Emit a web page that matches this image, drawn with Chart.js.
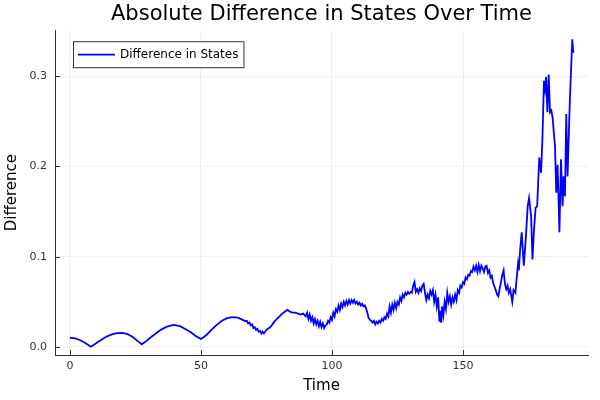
<!DOCTYPE html>
<html>
<head>
<meta charset="utf-8">
<script src="https://cdn.jsdelivr.net/npm/chart.js@4.4.0/dist/chart.umd.min.js"></script>
<style>
  html, body { margin: 0; padding: 0; background: #fff; }
  #wrap { width: 600px; height: 400px; }
</style>
</head>
<body>
<div id="wrap"><canvas id="chart" width="600" height="400"></canvas></div>
<script>
// values
const time = [
  0, 2, 4, 6, 8, 10, 12, 14, 16, 18, 20, 22, 24, 26, 27.4, 29, 31, 33, 35, 37, 39.5,
  42, 44, 46, 48, 50, 52, 54, 56, 58, 60, 62, 64, 66,
  67, 67.5, 68, 68.5, 69, 69.5, 70, 70.5, 71, 71.5, 72, 72.5, 73, 73.5, 74,
  75, 76, 77, 78, 79, 80, 81, 82, 83, 84, 85, 86, 87, 88, 89,
  90, 90.5, 91, 91.5, 92, 92.5, 93, 93.5, 94, 94.5, 95, 95.5, 96, 96.5, 97, 97.5,
  98, 98.5, 99, 99.5, 100, 100.5, 101, 101.5, 102, 102.5, 103, 103.5, 104, 104.5,
  105, 105.5, 106, 106.5, 107, 107.5, 108, 108.5, 109, 109.5, 110, 110.5, 111, 111.5,
  112, 112.5, 113, 113.5, 114, 114.5, 115, 115.5, 116, 116.5, 117, 117.5, 118, 118.5,
  119, 119.5, 120, 120.5, 121, 121.5, 122, 122.5, 123, 123.5, 124, 124.5, 125, 125.5,
  126, 126.5, 127, 127.5, 128, 128.5, 129, 129.5, 130, 130.5, 131, 131.5, 132, 132.5,
  133, 133.5, 134, 134.5, 135, 135.5, 136, 136.5, 137, 137.5, 138, 138.5, 139, 139.5,
  140, 140.5, 141, 141.3, 141.7, 142, 142.5, 143, 143.5, 144, 144.5, 145, 145.5, 146,
  146.5, 147, 147.5, 148, 148.5, 149, 149.5, 150, 150.5, 151, 151.5, 152, 152.5, 153,
  153.5, 154, 154.5, 155, 155.5, 156, 156.5, 157, 157.5, 158, 158.5, 159, 159.5, 160,
  160.5, 161, 161.5, 162, 162.5, 163, 163.5, 164, 164.5, 165, 165.5, 166, 166.5, 167,
  167.5, 168, 168.8, 169.3, 170, 170.5, 171, 171.3, 171.8, 172.4, 173.2, 174, 174.7,
  175.2, 176, 176.5, 177.1, 177.7, 178.3, 179.1, 179.8, 180.3, 180.9, 181.3, 181.7,
  182.2, 182.7, 183.2, 183.7, 184.2, 184.7, 185.1, 185.6, 186.1, 186.8, 187.4, 188,
  188.4, 188.9, 189.4, 189.9, 190.7, 191.7, 192.1
]
const diff = [
  0.0102, 0.0095, 0.0075, 0.0042, 0.0003, 0.0040, 0.0080, 0.0115, 0.0140, 0.0153, 0.0155,
  0.0142, 0.0110, 0.0062, 0.0030, 0.0062, 0.0110, 0.0155, 0.0195, 0.0225, 0.0244,
  0.0230, 0.0200, 0.0165, 0.0122, 0.0089, 0.0130, 0.0190, 0.0245, 0.0290, 0.0320, 0.0330, 0.0325, 0.0300,
  0.0285, 0.0290, 0.0260, 0.0270, 0.0240, 0.0250, 0.0210, 0.0220, 0.0190, 0.0200, 0.0170, 0.0180, 0.0150, 0.0170, 0.0150,
  0.0190, 0.0210, 0.0240, 0.0280, 0.0310, 0.0340, 0.0370, 0.0390, 0.0410, 0.0390, 0.0380, 0.0380, 0.0370, 0.0360, 0.0370,
  0.0340, 0.0380, 0.0310, 0.0360, 0.0290, 0.0330, 0.0260, 0.0310, 0.0250, 0.0290, 0.0230, 0.0280, 0.0220, 0.0260, 0.0210, 0.0240,
  0.0250, 0.0290, 0.0270, 0.0330, 0.0300, 0.0380, 0.0340, 0.0420, 0.0390, 0.0460, 0.0410, 0.0480, 0.0440, 0.0500,
  0.0460, 0.0510, 0.0470, 0.0520, 0.0480, 0.0520, 0.0490, 0.0520, 0.0480, 0.0500, 0.0470, 0.0490, 0.0460, 0.0480,
  0.0450, 0.0460, 0.0430, 0.0380, 0.0320, 0.0300, 0.0290, 0.0270, 0.0290, 0.0250, 0.0280, 0.0260, 0.0290, 0.0270,
  0.0310, 0.0290, 0.0330, 0.0310, 0.0370, 0.0340, 0.0450, 0.0380, 0.0470, 0.0410, 0.0490, 0.0430, 0.0500, 0.0470,
  0.0550, 0.0510, 0.0580, 0.0550, 0.0600, 0.0580, 0.0610, 0.0590, 0.0610, 0.0600, 0.0680, 0.0720, 0.0610, 0.0640,
  0.0600, 0.0650, 0.0620, 0.0680, 0.0700, 0.0600, 0.0520, 0.0580, 0.0540, 0.0620, 0.0580, 0.0630, 0.0500, 0.0580,
  0.0450, 0.0550, 0.0280, 0.0400, 0.0270, 0.0450, 0.0350, 0.0500, 0.0420, 0.0600, 0.0500, 0.0560, 0.0470, 0.0550,
  0.0500, 0.0580, 0.0520, 0.0630, 0.0600, 0.0680, 0.0660, 0.0720, 0.0700, 0.0770, 0.0750, 0.0800, 0.0790, 0.0840,
  0.0830, 0.0890, 0.0850, 0.0900, 0.0830, 0.0910, 0.0840, 0.0900, 0.0870, 0.0830, 0.0890, 0.0900, 0.0820, 0.0850,
  0.0770, 0.0790, 0.0710, 0.0670, 0.0630, 0.0580, 0.0560, 0.0650, 0.0720, 0.0800, 0.0850, 0.0700, 0.0640, 0.0680,
  0.0600, 0.0640, 0.0500, 0.0630, 0.0600, 0.0770, 0.0920, 0.0850, 0.1080, 0.1270, 0.0900, 0.1220, 0.1560,
  0.1650, 0.1450, 0.0970, 0.1300, 0.1540, 0.1560, 0.2100, 0.1930, 0.2300, 0.2950, 0.2860, 0.2990,
  0.2600, 0.3020, 0.2600, 0.2620, 0.2540, 0.2360, 0.2230, 0.1710, 0.2020, 0.1270, 0.2080, 0.1560,
  0.1890, 0.1670, 0.2580, 0.1890, 0.2670, 0.3410, 0.3260
]
const xTicks = [0, 50, 100, 150]
const yTicks = [0.0, 0.1, 0.2, 0.3]
const seriesName = 'Difference in States'

const font = '"DejaVu Sans", sans-serif'
const axisColor = '#333333'
const gridColor = 'rgba(0, 0, 0, 0.06)'

// legend in a framed box inside the plot area, top left
const legendBox = {
  id: 'legendBox',
  afterDraw(chart) {
    const ctx = chart.ctx
    const area = chart.chartArea
    const ds = chart.data.datasets[0]
    ctx.save()
    ctx.font = '12px ' + font
    const tw = ctx.measureText(ds.label).width
    const x = area.left + 18
    const y = area.top + 11
    const w = 5 + 37 + 5 + tw + 5
    const h = 26
    ctx.fillStyle = '#ffffff'
    ctx.fillRect(x, y, w, h)
    ctx.strokeStyle = axisColor
    ctx.lineWidth = 1
    ctx.strokeRect(x + 0.5, y + 0.5, w, h)
    ctx.strokeStyle = ds.borderColor
    ctx.lineWidth = ds.borderWidth
    ctx.beginPath()
    ctx.moveTo(x + 5, y + h / 2 + 0.5)
    ctx.lineTo(x + 42, y + h / 2 + 0.5)
    ctx.stroke()
    ctx.fillStyle = '#000000'
    ctx.textBaseline = 'middle'
    ctx.fillText(ds.label, x + 47, y + h / 2 + 1)
    ctx.restore()
  }
}

// short tick marks pointing into the plot
const innerTicks = {
  id: 'innerTicks',
  afterDatasetsDraw(chart) {
    const ctx = chart.ctx
    const area = chart.chartArea
    const xs = chart.scales.x
    const ys = chart.scales.y
    ctx.save()
    ctx.strokeStyle = axisColor
    ctx.lineWidth = 1
    ctx.beginPath()
    xTicks.forEach(v => {
      const px = Math.round(xs.getPixelForValue(v)) + 0.5
      ctx.moveTo(px, area.bottom)
      ctx.lineTo(px, area.bottom - 5)
    })
    yTicks.forEach(v => {
      const py = Math.round(ys.getPixelForValue(v)) + 0.5
      ctx.moveTo(area.left, py)
      ctx.lineTo(area.left + 5, py)
    })
    ctx.stroke()
    ctx.restore()
  }
}

new Chart(document.getElementById('chart'), {
  type: 'line',
  data: {
    datasets: [{
      label: seriesName,
      data: time.map((t, i) => ({ x: t, y: diff[i] })),
      borderColor: '#0000ff',
      borderWidth: 1.8,
      pointRadius: 0,
      tension: 0,
      fill: false
    }]
  },
  options: {
    responsive: false,
    animation: false,
    layout: { padding: { left: 0, right: 12, top: 0, bottom: 0 } },
    plugins: {
      legend: { display: false },
      tooltip: { enabled: false },
      title: {
        display: true,
        fullSize: false,
        text: 'Absolute Difference in States Over Time',
        color: '#000000',
        font: { family: font, size: 21, weight: 'normal' },
        padding: { top: 2, bottom: 3 }
      }
    },
    scales: {
      x: {
        type: 'linear',
        min: -5.7,
        max: 197.7,
        afterBuildTicks: s => { s.ticks = xTicks.map(v => ({ value: v })) },
        afterFit: s => { s.height = 45 },
        ticks: {
          color: '#333333',
          padding: 5,
          font: { family: font, size: 11 },
          callback: v => String(v)
        },
        grid: { color: gridColor, lineWidth: 1, drawTicks: false },
        border: { display: true, color: axisColor, width: 1 },
        title: {
          display: true,
          text: 'Time',
          color: '#000000',
          font: { family: font, size: 15 },
          padding: { top: 0, bottom: 5 }
        }
      },
      y: {
        min: -0.0089,
        max: 0.351,
        afterBuildTicks: s => { s.ticks = yTicks.map(v => ({ value: v })) },
        afterFit: s => { s.width = 55 },
        ticks: {
          color: '#333333',
          padding: 8,
          font: { family: font, size: 11 },
          callback: v => v.toFixed(1)
        },
        grid: { color: gridColor, lineWidth: 1, drawTicks: false },
        border: { display: true, color: axisColor, width: 1 },
        title: {
          display: true,
          text: 'Difference',
          color: '#000000',
          font: { family: font, size: 15 },
          padding: { top: 3, bottom: 0 }
        }
      }
    }
  },
  plugins: [legendBox, innerTicks]
})
</script>
</body>
</html>
